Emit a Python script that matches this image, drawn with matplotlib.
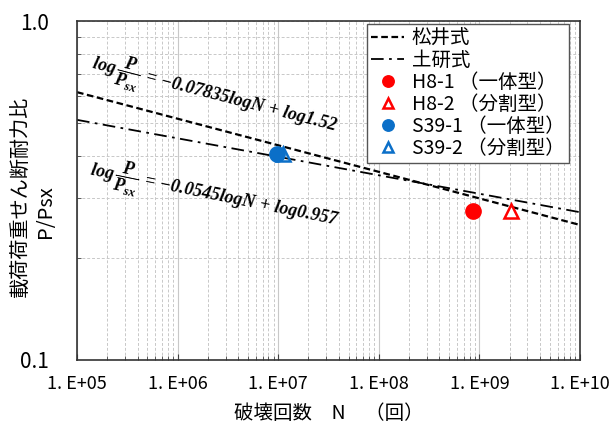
import numpy as np
import matplotlib.pyplot as plt
from matplotlib.ticker import FixedLocator, NullFormatter

plt.rcParams['font.family'] = ['Noto Sans CJK JP', 'DejaVu Sans']
plt.rcParams['mathtext.fontset'] = 'custom'
plt.rcParams['mathtext.rm'] = 'Liberation Serif:italic:bold'
plt.rcParams['mathtext.it'] = 'Liberation Serif:italic:bold'
plt.rcParams['mathtext.bf'] = 'Liberation Serif:italic:bold'

# fit formulas: log(P/Psx) = a*logN + log(b)
matsui_a, matsui_b = -0.07835, 1.52
doken_a, doken_b = -0.0545, 0.957

# test results
h8_1_n, h8_1_p = [8.6e8], [0.275]
h8_2_n, h8_2_p = [2.05e9], [0.275]
s39_1_n, s39_1_p = [9.7e6], [0.405]
s39_2_n, s39_2_p = [1.12e7], [0.405]

x_ticks = [1e5, 1e6, 1e7, 1e8, 1e9, 1e10]
x_labels = ["1. E+05", "1. E+06", "1. E+07", "1. E+08", "1. E+09", "1. E+10"]

fig = plt.figure(figsize=(6.12, 4.26), dpi=100)
ax = fig.add_axes([77 / 612, 1 - 360 / 426, 503 / 612, 339 / 426])

n = np.logspace(5, 10, 200)
ax.plot(n, matsui_b * n ** matsui_a, color="k", linestyle=(0, (3, 1.6)), lw=1.6, label="松井式")
ax.plot(n, doken_b * n ** doken_a, color="k", linestyle=(0, (7, 3, 1.5, 3)), lw=1.3, label="土研式")

ax.plot(h8_1_n, h8_1_p, "o", color="#ff0000", ms=11, ls="none", label="H8-1 （一体型）")
ax.plot(h8_2_n, h8_2_p, "^", mfc="white", mec="#ff0000", mew=1.8, ms=10, ls="none", label="H8-2 （分割型）")
ax.plot(s39_1_n, s39_1_p, "o", color="#0b6fc8", ms=11, ls="none", label="S39-1 （一体型）")
ax.plot(s39_2_n, s39_2_p, "^", mfc="none", mec="#0b6fc8", mew=1.8, ms=10, ls="none", label="S39-2 （分割型）")

ax.set_xscale("log")
ax.set_yscale("log")
ax.set_xlim(1e5, 1e10)
ax.set_ylim(0.1, 1.0)

ax.xaxis.set_major_locator(FixedLocator(x_ticks))
ax.set_xticklabels(x_labels, fontsize=13)
ax.yaxis.set_major_locator(FixedLocator([0.1, 1.0]))
ax.set_yticklabels(["0.1", "1.0"], fontsize=15)
ax.yaxis.set_minor_locator(FixedLocator(np.arange(0.2, 1.0, 0.1)))
ax.yaxis.set_minor_formatter(NullFormatter())
ax.xaxis.set_minor_formatter(NullFormatter())

ax.grid(True, which="major", axis="x", color="#c8c8c8", lw=0.8)
ax.grid(True, which="minor", axis="x", color="#c8c8c8", lw=0.7, ls=(0, (3, 2)))
ax.grid(True, which="both", axis="y", color="#c8c8c8", lw=0.7, ls=(0, (3, 2)))
ax.tick_params(which="both", direction="in", color="#444444")
ax.tick_params(which="major", length=4, pad=11)
ax.tick_params(which="minor", length=3)
ax.tick_params(axis="y", which="major", length=0, pad=20)
for s in ax.spines.values():
    s.set_color("#333333")
    s.set_linewidth(1.2)

ax.set_xlabel("破壊回数　N　（回）", fontsize=14, labelpad=7)
fig.text(21 / 612, 1 - 196 / 426, "載荷荷重せん断耐力比", rotation=90, fontsize=14.5,
         ha="center", va="center")
fig.text(46 / 612, 1 - 212 / 426, "P/Psx", rotation=90, fontsize=14.5, ha="center", va="center")

ax.text(1.4e5, 0.745, r"$log\,\dfrac{P}{P_{sx}}\,=\,{-}0.07835logN\,+\,log1.52$",
        rotation=-14.5, rotation_mode="anchor", fontsize=13, ha="left", va="center")
ax.text(1.35e5, 0.36, r"$log\,\dfrac{P}{P_{sx}}\,=\,{-}0.0545logN\,+\,log0.957$",
        rotation=-11.5, rotation_mode="anchor", fontsize=13, ha="left", va="center")

leg = ax.legend(loc="upper right", bbox_to_anchor=(0.985, 1.003), fontsize=14, frameon=True, fancybox=False,
                edgecolor="#555555", framealpha=1, borderpad=0.2, labelspacing=0.05, handlelength=1.7,
                handletextpad=0.4, markerscale=0.75, borderaxespad=0.2)
leg.get_frame().set_linewidth(1.0)

fig.savefig("out.png", dpi=100)
